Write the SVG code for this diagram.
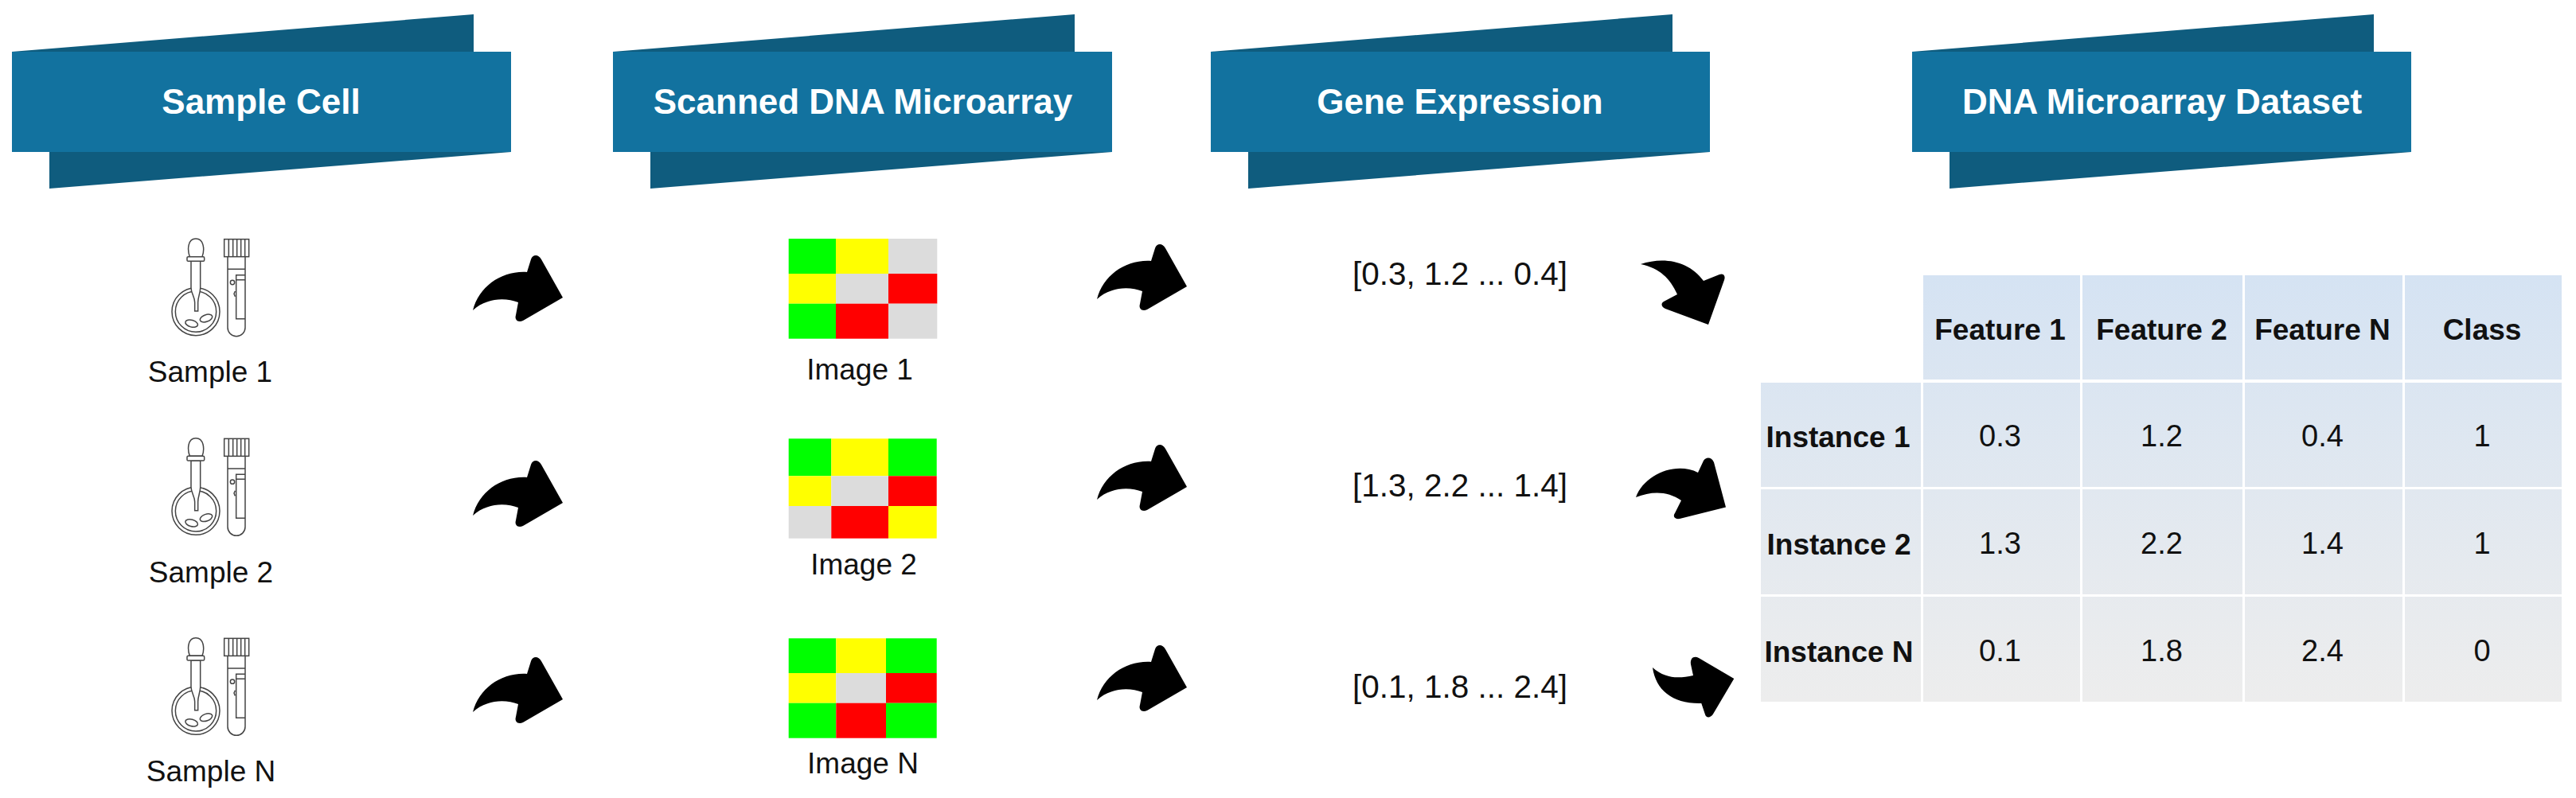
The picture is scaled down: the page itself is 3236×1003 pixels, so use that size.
<svg xmlns="http://www.w3.org/2000/svg" xmlns:xlink="http://www.w3.org/1999/xlink" width="3236" height="1003" viewBox="0 0 3236 1003">
<style>
text{font-family:"Liberation Sans",Arial,sans-serif;fill:#111;text-anchor:middle}
.t{font-size:44px;font-weight:700;fill:#fff}
.l{font-size:37px}
.v{font-size:40.5px}
.h{font-size:37px;font-weight:700}
.c{font-size:38px}
.bk{fill:#0f5c7e}
.fr{fill:#12729f}
.g{fill:#00ff00}.y{fill:#ffff00}.r{fill:#ff0000}.n{fill:#dcdcdc}
.cell{fill:url(#tg)}
.ic{fill:none;stroke:#444;stroke-width:4.5}
.icw{fill:#fff;stroke:#444;stroke-width:4.5}
.ar{fill:#000}
</style>
<defs>
<linearGradient id="tg" gradientUnits="userSpaceOnUse" x1="0" y1="346" x2="0" y2="882">
<stop offset="0" stop-color="#d5e3f3"/><stop offset="1" stop-color="#ededed"/>
</linearGradient>
<g id="banner">
<path class="bk" d="M0,47L580,0V47Z"/>
<path class="bk" d="M47,173H627L47,219Z"/>
<rect class="fr" x="0" y="47" width="627" height="126"/>
</g>
<g id="icon" transform="scale(.33333)">
<circle class="ic" cx="288" cy="335" r="90"/>
<circle class="ic" cx="288" cy="335" r="77"/>
<ellipse class="ic" cx="272" cy="380" rx="24" ry="13" transform="rotate(15 272 380)"/>
<ellipse class="ic" cx="327" cy="360" rx="24" ry="13" transform="rotate(-20 327 360)"/>
<path class="icw" d="M270,145V245C270,265 284,280 284,300V333H296V300C296,280 305,265 305,245V145Z"/>
<path class="icw" d="M265,128C255,100 258,60 288,60C318,60 322,100 312,128Z"/>
<rect class="icw" x="255" y="128" width="65" height="17" rx="4"/>
<rect class="ic" x="395" y="62" width="93" height="66"/>
<path class="ic" d="M412,62V128M428,62V128M443,62V128M458,62V128M473,62V128"/>
<path class="ic" d="M408,128V395A33,33 0 0 0 474,395V128"/>
<path class="ic" d="M408,175H474M474,197H440V362H474M440,215H474"/>
<circle class="ic" cx="426" cy="225" r="8"/>
<path class="ic" d="M436,258L432,268L436,278"/>
</g>
<path id="arrow" d="M34,110C42,80 70,60 102,62L107,46C109,40 116,39 120,46L147,94L97,123C91,126 86,122 88,116L91,100C75,94 52,94 34,110Z"/>
</defs>

<g id="banner-sample-cell"><use href="#banner" x="15" y="18"/><text class="t" x="328" y="143">Sample Cell</text></g>
<g id="banner-scanned"><use href="#banner" x="770" y="18"/><text class="t" x="1084" y="143">Scanned DNA Microarray</text></g>
<g id="banner-gene"><use href="#banner" x="1521" y="18"/><text class="t" x="1834" y="143">Gene Expression</text></g>
<g id="banner-dataset"><use href="#banner" x="2402" y="18"/><text class="t" x="2716" y="143">DNA Microarray Dataset</text></g>

<g id="sample-1"><use href="#icon" transform="translate(150,280)"/><text class="l" x="264" y="480">Sample 1</text></g>
<g id="sample-2"><use href="#icon" transform="translate(150,530.7)"/><text class="l" x="265" y="731.7">Sample 2</text></g>
<g id="sample-n"><use href="#icon" transform="translate(150,781.7)"/><text class="l" x="265" y="982">Sample N</text></g>

<g id="image-1">
<rect class="g" x="990.7" y="300" width="59.3" height="44"/><rect class="y" x="1050" y="300" width="66" height="44"/><rect class="n" x="1116" y="300" width="61.3" height="44"/>
<rect class="y" x="990.7" y="344" width="59.3" height="37.7"/><rect class="n" x="1050" y="344" width="66" height="37.7"/><rect class="r" x="1116" y="344" width="61.3" height="37.7"/>
<rect class="g" x="990.7" y="381.7" width="59.3" height="44"/><rect class="r" x="1050" y="381.7" width="66" height="44"/><rect class="n" x="1116" y="381.7" width="61.3" height="44"/>
<text class="l" x="1080" y="476.7">Image 1</text>
</g>
<g id="image-2">
<rect class="g" x="990.7" y="551.3" width="53.6" height="47"/><rect class="y" x="1044.3" y="551.3" width="71.7" height="47"/><rect class="g" x="1116" y="551.3" width="60.7" height="47"/>
<rect class="y" x="990.7" y="598.3" width="53.6" height="37.7"/><rect class="n" x="1044.3" y="598.3" width="71.7" height="37.7"/><rect class="r" x="1116" y="598.3" width="60.7" height="37.7"/>
<rect class="n" x="990.7" y="636" width="53.6" height="40.7"/><rect class="r" x="1044.3" y="636" width="71.7" height="40.7"/><rect class="y" x="1116" y="636" width="60.7" height="40.7"/>
<text class="l" x="1085" y="721.7">Image 2</text>
</g>
<g id="image-n">
<rect class="g" x="990.7" y="802.3" width="59.6" height="43.7"/><rect class="y" x="1050.3" y="802.3" width="62.7" height="43.7"/><rect class="g" x="1113" y="802.3" width="63.7" height="43.7"/>
<rect class="y" x="990.7" y="846" width="59.6" height="37.7"/><rect class="n" x="1050.3" y="846" width="62.7" height="37.7"/><rect class="r" x="1113" y="846" width="63.7" height="37.7"/>
<rect class="g" x="990.7" y="883.7" width="59.6" height="44"/><rect class="r" x="1050.3" y="883.7" width="62.7" height="44"/><rect class="g" x="1113" y="883.7" width="63.7" height="44"/>
<text class="l" x="1084" y="971.7">Image N</text>
</g>

<g id="vector-1"><text class="v" x="1834" y="358">[0.3, 1.2 ... 0.4]</text></g>
<g id="vector-2"><text class="v" x="1834" y="624">[1.3, 2.2 ... 1.4]</text></g>
<g id="vector-n"><text class="v" x="1834" y="877">[0.1, 1.8 ... 2.4]</text></g>

<g id="dataset-table">
<rect class="cell" x="2416" y="346" width="197" height="131"/><rect class="cell" x="2616" y="346" width="201" height="131"/><rect class="cell" x="2820" y="346" width="198" height="131"/><rect class="cell" x="3021" y="346" width="197" height="131"/>
<rect class="cell" x="2212" y="481" width="201" height="131"/><rect class="cell" x="2416" y="481" width="197" height="131"/><rect class="cell" x="2616" y="481" width="201" height="131"/><rect class="cell" x="2820" y="481" width="198" height="131"/><rect class="cell" x="3021" y="481" width="197" height="131"/>
<rect class="cell" x="2212" y="615" width="201" height="132"/><rect class="cell" x="2416" y="615" width="197" height="132"/><rect class="cell" x="2616" y="615" width="201" height="132"/><rect class="cell" x="2820" y="615" width="198" height="132"/><rect class="cell" x="3021" y="615" width="197" height="132"/>
<rect class="cell" x="2212" y="750" width="201" height="132"/><rect class="cell" x="2416" y="750" width="197" height="132"/><rect class="cell" x="2616" y="750" width="201" height="132"/><rect class="cell" x="2820" y="750" width="198" height="132"/><rect class="cell" x="3021" y="750" width="197" height="132"/>
<text class="h" x="2512.5" y="427">Feature 1</text><text class="h" x="2715.5" y="427">Feature 2</text><text class="h" x="2917.5" y="427">Feature N</text><text class="h" x="3118" y="427">Class</text>
<text class="h" x="2309" y="562">Instance 1</text><text class="c" x="2512.5" y="561">0.3</text><text class="c" x="2715.5" y="561">1.2</text><text class="c" x="2917.5" y="561">0.4</text><text class="c" x="3118" y="561">1</text>
<text class="h" x="2310" y="697">Instance 2</text><text class="c" x="2512.5" y="696">1.3</text><text class="c" x="2715.5" y="696">2.2</text><text class="c" x="2917.5" y="696">1.4</text><text class="c" x="3118" y="696">1</text>
<text class="h" x="2310" y="832">Instance N</text><text class="c" x="2512.5" y="831">0.1</text><text class="c" x="2715.5" y="831">1.8</text><text class="c" x="2917.5" y="831">2.4</text><text class="c" x="3118" y="831">0</text>
</g>

<g id="connectors" class="ar">
<use href="#arrow" x="560" y="280"/>
<use href="#arrow" x="560" y="538"/>
<use href="#arrow" x="560" y="785"/>
<use href="#arrow" x="1344" y="266"/>
<use href="#arrow" x="1344" y="518"/>
<use href="#arrow" x="1344" y="770"/>
<path d="M2061,332C2090,322 2122,328 2140,353L2160,345C2165,343 2168,347 2166,352L2146,408L2092,388C2087,386 2086,381 2090,379L2107,370C2098,350 2085,337 2061,332Z"/>
<path d="M2055,625C2066,596 2105,580 2133,594L2140,579C2143,574 2150,574 2153,581L2168,637.5L2110,652C2104,653 2101,649 2104,645L2112,629C2095,617 2075,617 2055,625Z"/>
<path d="M2076,839C2092,853 2108,853 2127,849L2124,835C2123,827 2128,824 2134,827L2178.3,853L2151.7,898C2148,903 2143,902 2142,898L2137.3,884C2102,885 2080,868 2076,839Z"/>
</g>
</svg>
